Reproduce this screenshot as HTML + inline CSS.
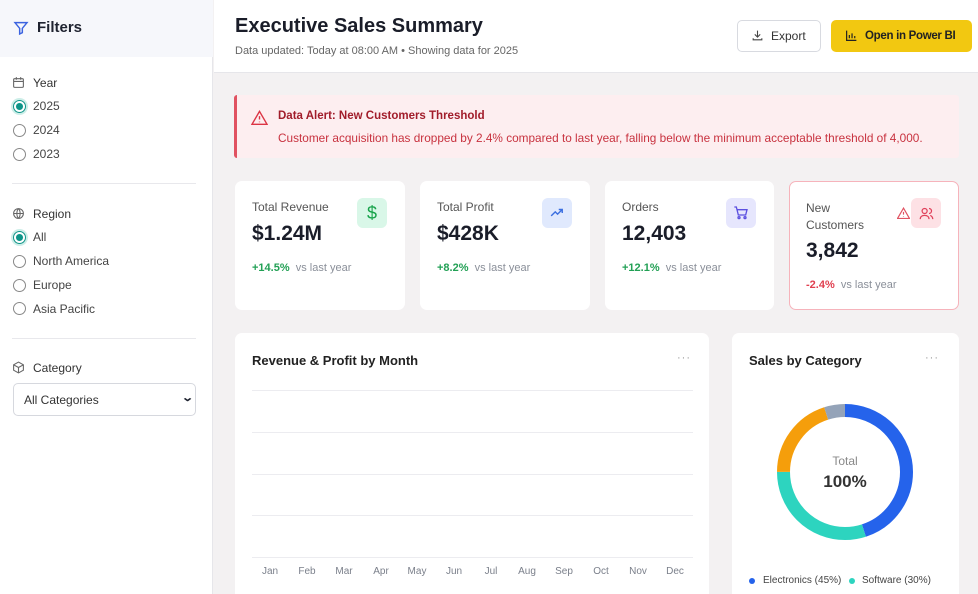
<!DOCTYPE html>
<html><head><meta charset="utf-8"><style>
*{box-sizing:border-box;margin:0;padding:0}
html,body{width:978px;height:594px;overflow:hidden}
body{font-family:"Liberation Sans",sans-serif;background:#f3f1f2;position:relative;color:#1f2330}
.a{position:absolute}
.side{left:0;top:0;width:213px;height:594px;background:#fff;border-right:1px solid #e6e6ea}
.sh{left:0;top:0;width:213px;height:57px;background:#f6f7fb}
.lbl{font-size:12px;color:#444;}
.radio{width:13px;height:13px;border:1.3px solid #888;border-radius:50%;background:#fff}
.radio.on{border:1.5px solid #0d9488;background:radial-gradient(#0d9488 0 3.2px,#fff 3.8px);box-shadow:0 0 0 2px #cdeee8}
.hr{height:1px;background:#e8e8ec;left:12px;width:184px}
.card{background:#fff;border-radius:7px}
.ct{font-size:12px;color:#555}
.cv{font-size:21px;font-weight:bold;color:#1a1d29}
.up{font-size:11px;color:#22a055;font-weight:bold}
.vs{font-size:11px;color:#8a8f99}
.ic{width:30px;height:30px;border-radius:6px;display:flex;align-items:center;justify-content:center}
.m{font-size:10px;color:#7a7f8a;top:566px;width:30px;text-align:center}
.g{height:1px;background:#ececf0;left:252px;width:441px}
</style></head><body>
<div class="a side"></div>
<div class="a sh"></div>
<svg class="a" style="left:13px;top:20px" width="16" height="16" viewBox="0 0 24 24" fill="none" stroke="#3b63e0" stroke-width="2.2"><path d="M3 4h18l-7 8.5V19l-4 2v-8.5z"/></svg>
<div class="a" style="left:37px;top:19px;font-size:15px;font-weight:bold">Filters</div>

<svg class="a" style="left:12px;top:76px" width="13" height="13" viewBox="0 0 24 24" fill="none" stroke="#666" stroke-width="2"><rect x="3" y="5" width="18" height="16" rx="2"/><path d="M3 10h18M8 2v5M16 2v5"/></svg>
<div class="a lbl" style="left:33px;top:76px;color:#333">Year</div>
<div class="a radio on" style="left:13px;top:100px"></div><div class="a lbl" style="left:33px;top:99px">2025</div>
<div class="a radio" style="left:13px;top:124px"></div><div class="a lbl" style="left:33px;top:123px">2024</div>
<div class="a radio" style="left:13px;top:148px"></div><div class="a lbl" style="left:33px;top:147px">2023</div>
<div class="a hr" style="top:183px"></div>
<svg class="a" style="left:12px;top:207px" width="13" height="13" viewBox="0 0 24 24" fill="none" stroke="#666" stroke-width="2"><circle cx="12" cy="12" r="9"/><path d="M3 12h18M12 3c4 4 4 14 0 18M12 3c-4 4-4 14 0 18"/></svg>
<div class="a lbl" style="left:33px;top:207px;color:#333">Region</div>
<div class="a radio on" style="left:13px;top:231px"></div><div class="a lbl" style="left:33px;top:230px">All</div>
<div class="a radio" style="left:13px;top:255px"></div><div class="a lbl" style="left:33px;top:254px">North America</div>
<div class="a radio" style="left:13px;top:279px"></div><div class="a lbl" style="left:33px;top:278px">Europe</div>
<div class="a radio" style="left:13px;top:302px"></div><div class="a lbl" style="left:33px;top:302px">Asia Pacific</div>
<div class="a hr" style="top:338px"></div>
<svg class="a" style="left:12px;top:361px" width="13" height="13" viewBox="0 0 24 24" fill="none" stroke="#666" stroke-width="2"><path d="M12 2l9 5v10l-9 5-9-5V7z M3 7l9 5 9-5M12 12v10"/></svg>
<div class="a lbl" style="left:33px;top:361px;color:#333">Category</div>
<div class="a" style="left:13px;top:383px;width:183px;height:33px;border:1px solid #d6d8de;border-radius:5px;background:#fff"></div>
<div class="a lbl" style="left:24px;top:393px;color:#333">All Categories</div>
<div class="a" style="left:183px;top:391px;font-size:11px;font-weight:bold;transform:scaleX(1.4)">&#8964;</div>

<div class="a" style="left:214px;top:0;width:764px;height:73px;background:#fff;border-bottom:1px solid #e6e6ea"></div>
<div class="a" style="left:235px;top:15px;font-size:20px;font-weight:bold;color:#1a1d29">Executive Sales Summary</div>
<div class="a" style="left:235px;top:45px;font-size:11px;color:#666">Data updated: Today at 08:00 AM • Showing data for 2025</div>
<div class="a" style="left:737px;top:20px;width:84px;height:32px;border:1px solid #d8dae0;border-radius:5px;background:#fff"></div>
<svg class="a" style="left:751px;top:29px" width="13" height="13" viewBox="0 0 24 24" fill="none" stroke="#444" stroke-width="2"><path d="M12 3v12M7 10l5 5 5-5M4 17v3h16v-3"/></svg>
<div class="a" style="left:771px;top:29px;font-size:12px;color:#333">Export</div>
<div class="a" style="left:831px;top:20px;width:141px;height:32px;background:#f2c811;border-radius:5px"></div>
<svg class="a" style="left:845px;top:29px" width="13" height="13" viewBox="0 0 24 24" fill="none" stroke="#222" stroke-width="2.2"><path d="M3 3v18h18M8 17v-6M13 17V8M18 17v-4"/></svg>
<div class="a" style="left:865px;top:30px;font-size:11.5px;font-weight:bold;color:#222;letter-spacing:-0.3px">Open in Power BI</div>

<div class="a" style="left:234px;top:95px;width:725px;height:63px;background:#fdeef0;border-left:3px solid #e05261;border-radius:3px"></div>
<svg class="a" style="left:251px;top:110px" width="17" height="15" viewBox="0 0 24 22" fill="none" stroke="#dc3545" stroke-width="2"><path d="M12 2L1 21h22z M12 9v5M12 17v1"/></svg>
<div class="a" style="left:278px;top:110px;font-size:11.5px;font-weight:bold;color:#a11c2a">Data Alert: New Customers Threshold</div>
<div class="a" style="left:278px;top:131px;font-size:11.8px;color:#c8323f">Customer acquisition has dropped by 2.4% compared to last year, falling below the minimum acceptable threshold of 4,000.</div>

<div class="a card" style="left:235px;top:181px;width:170px;height:129px"></div>
<div class="a ct" style="left:252px;top:200px">Total Revenue</div>
<div class="a cv" style="left:252px;top:222px">$1.24M</div>
<div class="a up" style="left:252px;top:262px">+14.5% <span class="vs" style="font-weight:normal">&nbsp;vs last year</span></div>
<div class="a ic" style="left:357px;top:198px;background:#d9f7e8;color:#16a34a;font-size:18px">$</div>

<div class="a card" style="left:420px;top:181px;width:170px;height:129px"></div>
<div class="a ct" style="left:437px;top:200px">Total Profit</div>
<div class="a cv" style="left:437px;top:222px">$428K</div>
<div class="a up" style="left:437px;top:262px">+8.2% <span class="vs" style="font-weight:normal">&nbsp;vs last year</span></div>
<div class="a ic" style="left:542px;top:198px;background:#e0e9fd"><svg width="14" height="14" viewBox="0 0 24 24" fill="none" stroke="#3b6fe0" stroke-width="2.4"><path d="M2 17l7-7 4 4 8-8M15 6h6v6"/></svg></div>

<div class="a card" style="left:605px;top:181px;width:169px;height:129px"></div>
<div class="a ct" style="left:622px;top:200px">Orders</div>
<div class="a cv" style="left:622px;top:222px">12,403</div>
<div class="a up" style="left:622px;top:262px">+12.1% <span class="vs" style="font-weight:normal">&nbsp;vs last year</span></div>
<div class="a ic" style="left:726px;top:198px;background:#e6e6fd"><svg width="16" height="16" viewBox="0 0 24 24" fill="none" stroke="#5b4fe0" stroke-width="2"><path d="M2 3h3l3 12h11l2-8H6"/><circle cx="9" cy="19" r="1.5"/><circle cx="18" cy="19" r="1.5"/></svg></div>

<div class="a card" style="left:789px;top:181px;width:170px;height:129px;border:1px solid #f6b3bb"></div>
<div class="a ct" style="left:806px;top:200px;line-height:17px">New<br>Customers</div>
<div class="a cv" style="left:806px;top:239px">3,842</div>
<div class="a up" style="left:806px;top:279px;color:#e04050">-2.4% <span class="vs" style="font-weight:normal">&nbsp;vs last year</span></div>
<svg class="a" style="left:897px;top:207px" width="13" height="12" viewBox="0 0 24 22" fill="none" stroke="#e05261" stroke-width="2.2"><path d="M12 2L1 21h22z M12 9v5M12 17v1"/></svg>
<div class="a ic" style="left:911px;top:198px;background:#fde1e5"><svg width="15" height="15" viewBox="0 0 24 24" fill="none" stroke="#e0405a" stroke-width="2"><circle cx="9" cy="8" r="4"/><path d="M2 21c0-4 3-6 7-6s7 2 7 6M16 4a4 4 0 010 8M22 21c0-3-2-5-4-6"/></svg></div>

<div class="a card" style="left:235px;top:333px;width:474px;height:270px"></div>
<div class="a" style="left:252px;top:353px;font-size:13px;font-weight:bold;color:#222">Revenue &amp; Profit by Month</div>
<div class="a" style="left:677px;top:352px;font-size:11px;color:#999;letter-spacing:1px">···</div>
<div class="a g" style="top:390px"></div><div class="a g" style="top:432px"></div><div class="a g" style="top:474px"></div><div class="a g" style="top:515px"></div><div class="a g" style="top:557px"></div>
<div class="a m" style="left:255px">Jan</div><div class="a m" style="left:292px">Feb</div><div class="a m" style="left:329px">Mar</div><div class="a m" style="left:366px">Apr</div><div class="a m" style="left:402px">May</div><div class="a m" style="left:439px">Jun</div><div class="a m" style="left:476px">Jul</div><div class="a m" style="left:512px">Aug</div><div class="a m" style="left:549px">Sep</div><div class="a m" style="left:586px">Oct</div><div class="a m" style="left:623px">Nov</div><div class="a m" style="left:660px">Dec</div>

<div class="a card" style="left:732px;top:333px;width:227px;height:270px"></div>
<div class="a" style="left:749px;top:353px;font-size:13px;font-weight:bold;color:#222">Sales by Category</div>
<div class="a" style="left:925px;top:352px;font-size:11px;color:#999;letter-spacing:1px">···</div>
<svg class="a" style="left:770px;top:397px" width="150" height="150" viewBox="0 0 150 150">
<g transform="rotate(-90 75 75)" fill="none" stroke-width="13">
<circle cx="75" cy="75" r="61.5" stroke="#2563eb" stroke-dasharray="173.9 386.4"/>
<circle cx="75" cy="75" r="61.5" stroke="#2dd4bf" stroke-dasharray="0 173.9 115.9 386.4"/>
<circle cx="75" cy="75" r="61.5" stroke="#f59e0b" stroke-dasharray="0 289.8 77.3 386.4"/>
<circle cx="75" cy="75" r="61.5" stroke="#94a3b8" stroke-dasharray="0 367.1 19.3 386.4"/>
</g></svg>
<div class="a" style="left:815px;top:454px;width:60px;text-align:center;font-size:12px;color:#888">Total</div>
<div class="a" style="left:805px;top:472px;width:80px;text-align:center;font-size:17px;font-weight:bold;color:#333">100%</div>
<div class="a" style="left:749px;top:578px;width:6px;height:6px;border-radius:50%;background:#2563eb"></div>
<div class="a" style="left:763px;top:575px;font-size:10px;color:#444">Electronics (45%)</div>
<div class="a" style="left:849px;top:578px;width:6px;height:6px;border-radius:50%;background:#2dd4bf"></div>
<div class="a" style="left:862px;top:575px;font-size:10px;color:#444">Software (30%)</div>
</body></html>
